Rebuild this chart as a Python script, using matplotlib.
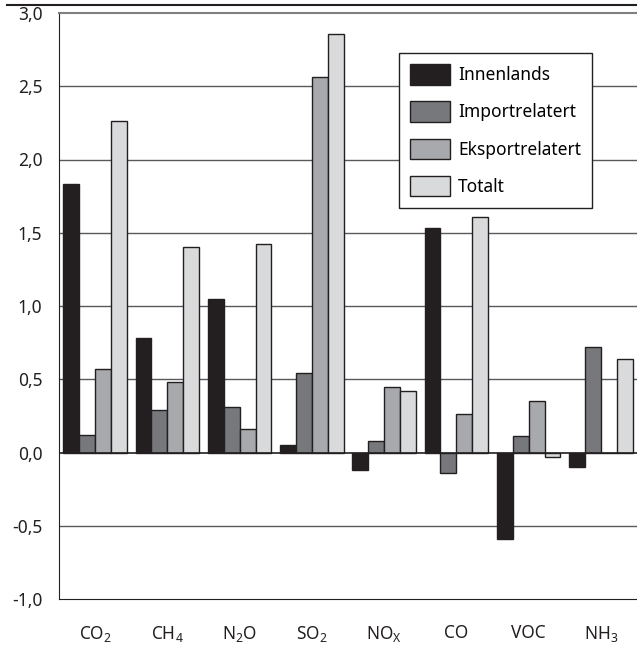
import numpy as np
import matplotlib
matplotlib.use('Agg')
import matplotlib.pyplot as plt
from matplotlib.lines import Line2D

plt.rcParams['font.family'] = ['Noto Sans', 'DejaVu Sans']
plt.rcParams['mathtext.default'] = 'regular'

gasser = ['CO$_2$', 'CH$_4$', 'N$_2$O', 'SO$_2$', 'NO$_X$', 'CO', 'VOC', 'NH$_3$']
innenlands = [1.83, 0.78, 1.05, 0.05, -0.12, 1.53, -0.59, -0.10]
importrelatert = [0.12, 0.29, 0.31, 0.54, 0.08, -0.14, 0.11, 0.72]
eksportrelatert = [0.57, 0.48, 0.16, 2.56, 0.45, 0.26, 0.35, 0.0]
totalt = [2.26, 1.40, 1.42, 2.86, 0.42, 1.61, -0.03, 0.64]

serier = [innenlands, importrelatert, eksportrelatert, totalt]
navn = ['Innenlands', 'Importrelatert', 'Eksportrelatert', 'Totalt']
farger = ['#231f20', '#77787b', '#a7a9ac', '#d9dadb']

fig = plt.figure(figsize=(6.37, 6.57), dpi=100)
ax = fig.add_axes([59 / 637, 1 - 599 / 657, 578 / 637, 586 / 657])

x = np.arange(len(gasser))
w = 0.22
for i, (s, f, n) in enumerate(zip(serier, farger, navn)):
    ax.bar(x + (i - 1.5) * w, s, w, color=f, edgecolor='#231f20',
           linewidth=1.0, label=n, zorder=3)

for y in [-0.5, 0.5, 1.0, 1.5, 2.0, 2.5]:
    ax.axhline(y, color='#58595b', lw=1.0, zorder=1)
ax.axhline(0, color='#231f20', lw=1.2, zorder=4)

ax.set_xlim(-0.5, 7.5)
ax.set_ylim(-1.0, 3.0)
ax.set_yticks(np.arange(-1.0, 3.01, 0.5))
ax.set_yticklabels([f'{v:.1f}'.replace('.', ',') for v in np.arange(-1.0, 3.01, 0.5)])
ax.set_xticks(x)
ax.set_xticklabels(gasser)
ax.tick_params(axis='both', length=0, labelsize=12.5, colors='#231f20')
ax.tick_params(axis='x', pad=18)
ax.tick_params(axis='y', pad=12)

ax.spines['right'].set_visible(False)
ax.spines['top'].set_color('#808080')
ax.spines['top'].set_linewidth(1.5)
ax.spines['left'].set_color('#231f20')
ax.spines['bottom'].set_color('#231f20')

leg = ax.legend(loc='upper left', bbox_to_anchor=(399 / 637, 1 - 53 / 657),
                bbox_transform=fig.transFigure, fontsize=12.5,
                handlelength=2.3, handleheight=1.45, labelspacing=0.95,
                handletextpad=0.45, borderpad=0.65, borderaxespad=0,
                fancybox=False, framealpha=1, edgecolor='#231f20')
leg.get_frame().set_linewidth(1.0)
leg.set_zorder(5)

fig.add_artist(Line2D([7 / 637, 1], [1 - 5 / 657, 1 - 5 / 657], color='#231f20', lw=1.5))

plt.savefig('out.png', dpi=100)
